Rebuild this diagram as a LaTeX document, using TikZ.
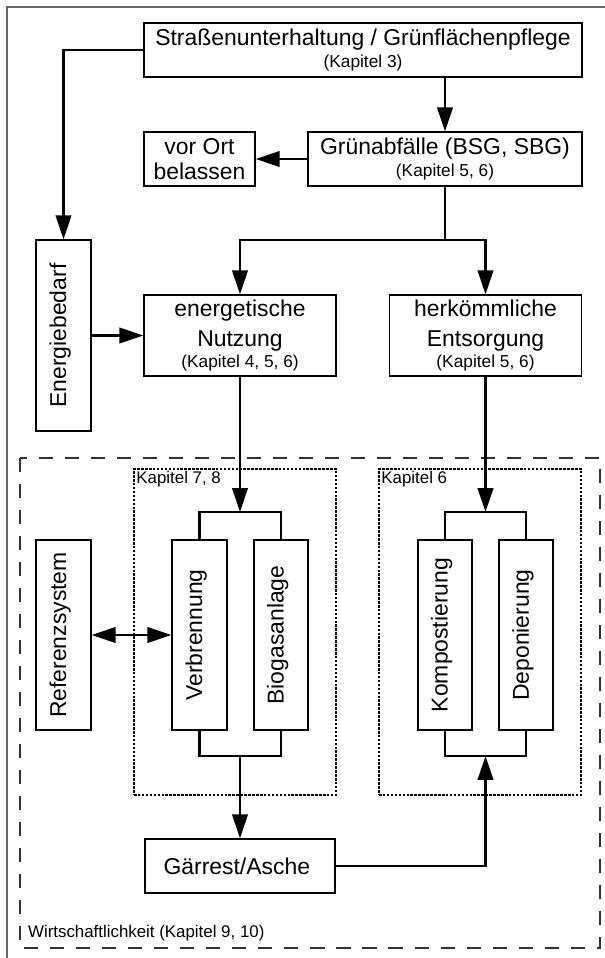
\documentclass[tikz,border=0pt]{standalone}
\usepackage{fontspec}
\setmainfont{Liberation Sans}
\usepackage{graphicx}
\usepackage{tikz}
\usetikzlibrary{arrows.meta}
\newcommand{\kapfont}{\fontsize{12.3}{14}\selectfont}
\tikzstyle{box}   = [rectangle, draw=black, line width=0.9pt, fill=white, align=center, inner sep=0pt,
    font=\fontsize{16.3}{21.3}\selectfont]
\tikzstyle{group} = [rectangle, draw=black, line width=0.85pt, dash pattern=on 1.8pt off 1pt]
\tikzstyle{label} = [inner sep=2pt, font=\fontsize{12}{14}\selectfont]
\tikzstyle{frame} = [draw=black!80, line width=1.3pt, dash pattern=on 10pt off 8.5pt]
\tikzstyle{line}  = [line width=1.7pt]
\tikzstyle{arrow} = [line width=1.7pt, -{Triangle[length=17pt,width=11pt]}]
\tikzstyle{darrow} = [line width=1.7pt, {Triangle[length=17pt,width=11pt]}-{Triangle[length=17pt,width=11pt]}]

\begin{document}
\begin{tikzpicture}[x=0.025cm, y=-0.025cm]

    \useasboundingbox (0,0) rectangle (604,958);

    % ===============================
    % 0. FRAMES
    % ===============================
    \draw[draw=black!60, line width=0.8pt] (7,7) rectangle (620,975);
    \draw[frame] (20,458) rectangle (600,948);
    \node[label, anchor=west] (wirtlab) at (25,933) {Wirtschaftlichkeit (Kapitel 9, 10)};

    % Chapter groups
    \node[group, minimum width=5.05cm, minimum height=8.15cm] (g78) at (235,632) {};
    \node[label, anchor=north west] (g78lab) at (g78.north west) {Kapitel 7, 8};
    \node[group, minimum width=5.05cm, minimum height=8.15cm] (g6) at (480,632) {};
    \node[label, anchor=north west] (g6lab) at (g6.north west) {Kapitel 6};

    % ===============================
    % 1. NODES
    % ===============================

    % Top
    \node[box, minimum width=10.95cm, minimum height=1.35cm] (top) at (363,50) {
        Straßenunterhaltung / Grünflächenpflege\\[-6pt]{\kapfont (Kapitel 3)}
    };
    \node[box, minimum width=6.85cm, minimum height=1.35cm] (gruen) at (445,159) {
        Grünabfälle (BSG, SBG)\\[-6pt]{\kapfont (Kapitel 5, 6)}
    };
    \node[box, minimum width=2.78cm, minimum height=1.35cm] (vorort) at (199.5,159) {
        vor Ort\\[-3.5pt]belassen
    };

    % Middle
    \node[box, minimum width=1.375cm, minimum height=4.775cm] (energie) at (63.5,335.5) {
        \rotatebox{90}{Energiebedarf}
    };
    \node[box, minimum width=4.8cm, minimum height=2.025cm] (nutz) at (240,335.5) {
        energetische\\Nutzung\\[-6pt]{\kapfont (Kapitel 4, 5, 6)}
    };
    \node[box, minimum width=4.8cm, minimum height=2.025cm] (entsorg) at (485.5,335.5) {
        herkömmliche\\Entsorgung\\[-6pt]{\kapfont (Kapitel 5, 6)}
    };

    % Bottom
    \node[box, minimum width=1.375cm, minimum height=4.75cm] (referenz) at (63.5,635) {
        \rotatebox{90}{Referenzsystem}
    };
    \node[box, minimum width=1.375cm, minimum height=4.75cm] (verbr) at (199.5,635) {
        \rotatebox{90}{Verbrennung}
    };
    \node[box, minimum width=1.35cm, minimum height=4.75cm] (biogas) at (281,635) {
        \rotatebox{90}{Biogasanlage}
    };
    \node[box, minimum width=1.35cm, minimum height=4.75cm] (kompost) at (445,635) {
        \rotatebox{90}{Kompostierung}
    };
    \node[box, minimum width=1.35cm, minimum height=4.75cm] (deponie) at (526,635) {
        \rotatebox{90}{Deponierung}
    };
    \node[box, minimum width=4.75cm, minimum height=1.35cm] (gaerrest) at (240,866) {
        Gärrest/Asche
    };

    % ===============================
    % 2. CONNECTIONS
    % ===============================

    % Top part
    \draw[arrow] (top.west) -| (energie.north);
    \draw[arrow] (top.south -| gruen.north) -- (gruen.north);
    \draw[arrow] (gruen.west) -- (vorort.east);

    % Split of green waste
    \coordinate (split) at (445,240);
    \draw[line] (gruen.south) -- (split);
    \draw[arrow] (split) -| (nutz.north);
    \draw[arrow] (split) -| (entsorg.north);
    \draw[arrow] (energie.east) -- (nutz.west);

    % Kapitel 7, 8
    \coordinate (bar78t) at (240,512);
    \coordinate (bar78b) at (240,756);
    \draw[arrow] (nutz.south) -- (bar78t);
    \draw[line] (verbr.north) |- (bar78t) -| (biogas.north);
    \draw[line] (verbr.south) |- (bar78b) -| (biogas.south);
    \draw[arrow] (bar78b) -- (gaerrest.north);
    \draw[darrow] (referenz.east) -- (verbr.west);

    % Kapitel 6
    \coordinate (bar6t) at (485.5,512);
    \coordinate (bar6b) at (485.5,756);
    \draw[arrow] (entsorg.south) -- (bar6t);
    \draw[line] (kompost.north) |- (bar6t) -| (deponie.north);
    \draw[line] (kompost.south) |- (bar6b) -| (deponie.south);
    \draw[arrow] (gaerrest.east) -| (bar6b);

\end{tikzpicture}
\end{document}
